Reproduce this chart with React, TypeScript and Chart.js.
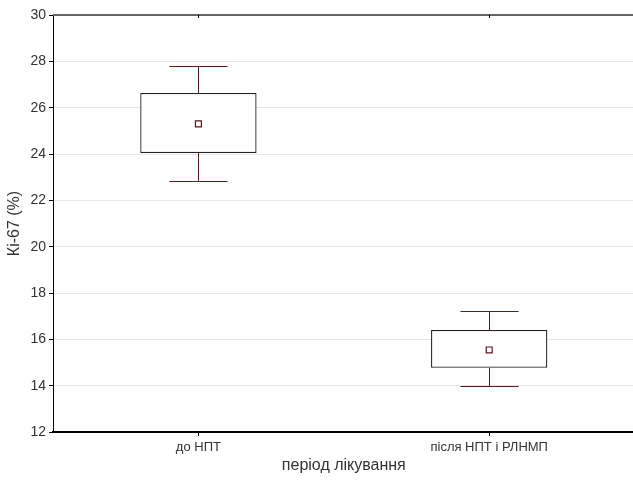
import React, { useEffect, useRef } from "react";
import { Chart, registerables } from "chart.js";

Chart.register(...registerables);

const categories = ["до НПТ", "після НПТ і РЛНМП"];
const boxLow = [24.04, 14.77];
const boxHigh = [26.63, 16.4];
const whiskerLow = [22.84, 13.99];
const whiskerHigh = [27.8, 17.22];
const means = [25.3, 15.54];
const yTitle = "Кі-67 (%)";
const xTitle = "період лікування";

const FONT = "'Liberation Sans', Arial, sans-serif";
const TEXT = "#333333";
const WHISKER = "#5a1c1c";

const whiskerPlugin = {
  id: "whiskers",
  beforeDatasetsDraw(chart: any) {
    const { ctx, scales } = chart;
    const x = scales.x;
    const y = scales.y;
    const meta = chart.getDatasetMeta(0);
    ctx.save();
    ctx.strokeStyle = WHISKER;
    ctx.lineWidth = 1;
    categories.forEach((_, i) => {
      const cx = Math.round(x.getPixelForValue(i)) + 0.5;
      const bw = meta.data[i] ? meta.data[i].width : 100;
      const half = bw / 4;
      const yTop = y.getPixelForValue(whiskerHigh[i]);
      const yBoxTop = y.getPixelForValue(boxHigh[i]);
      const yBoxBot = y.getPixelForValue(boxLow[i]);
      const yBot = y.getPixelForValue(whiskerLow[i]);
      ctx.beginPath();
      ctx.moveTo(cx, yBoxTop);
      ctx.lineTo(cx, yTop);
      ctx.moveTo(cx - half, Math.round(yTop) + 0.5);
      ctx.lineTo(cx + half, Math.round(yTop) + 0.5);
      ctx.moveTo(cx, yBoxBot);
      ctx.lineTo(cx, yBot);
      ctx.moveTo(cx - half, Math.round(yBot) + 0.5);
      ctx.lineTo(cx + half, Math.round(yBot) + 0.5);
      ctx.stroke();
    });
    ctx.restore();
  },
  afterDraw(chart: any) {
    const { ctx, chartArea, scales } = chart;
    ctx.save();
    ctx.strokeStyle = "#666666";
    ctx.lineWidth = 2;
    ctx.beginPath();
    ctx.moveTo(chartArea.left, chartArea.top);
    ctx.lineTo(chartArea.right + 5, chartArea.top);
    ctx.stroke();
    ctx.strokeStyle = "#000";
    ctx.lineWidth = 1;
    categories.forEach((_, i) => {
      const cx = Math.round(scales.x.getPixelForValue(i)) + 0.5;
      ctx.beginPath();
      ctx.moveTo(cx, chartArea.top);
      ctx.lineTo(cx, chartArea.top + 3);
      ctx.stroke();
    });
    ctx.restore();
  },
};

export default function App() {
  const ref = useRef<HTMLCanvasElement | null>(null);

  useEffect(() => {
    if (!ref.current) return;
    const chart = new Chart(ref.current, {
      type: "bar",
      data: {
        labels: categories,
        datasets: [
          {
            type: "bar",
            data: categories.map((_, i) => [boxLow[i], boxHigh[i]]) as any,
            backgroundColor: "#ffffff",
            borderColor: "#222222",
            borderWidth: 1.3,
            borderSkipped: false,
            barPercentage: 0.4,
            categoryPercentage: 1,
            order: 2,
          } as any,
          {
            type: "line",
            data: means,
            showLine: false,
            pointStyle: "rect",
            pointRadius: 4.2,
            pointBackgroundColor: "#ffffff",
            pointBorderColor: "#5e1515",
            pointBorderWidth: 1.2,
            order: 1,
          } as any,
        ],
      },
      options: {
        responsive: false,
        animation: false,
        layout: { padding: { top: 15, right: 3, left: 0, bottom: 0 } },
        plugins: { legend: { display: false }, tooltip: { enabled: false } },
        scales: {
          x: {
            offset: true,
            afterFit(scale: any) {
              scale.height = 49;
            },
            grid: {
              offset: false,
              drawOnChartArea: false,
              tickLength: 4,
              color: "#000",
            },
            border: { color: "#000", width: 2 },
            ticks: {
              color: TEXT,
              padding: 4,
              font: { family: FONT, size: 13 },
            },
            title: {
              display: true,
              text: xTitle,
              color: TEXT,
              font: { family: FONT, size: 16 },
              padding: { top: 0, bottom: 6 },
            },
          },
          y: {
            min: 12,
            max: 30,
            afterFit(scale: any) {
              scale.width = 53;
            },
            grid: {
              color: "#e6e6e6",
              tickColor: "#000",
              tickLength: 4,
            },
            border: { color: "#000", width: 1 },
            ticks: {
              stepSize: 2,
              color: TEXT,
              padding: 3,
              font: { family: FONT, size: 14 },
            },
            title: {
              display: true,
              text: yTitle,
              color: TEXT,
              font: { family: FONT, size: 16 },
              padding: { top: 5, bottom: 0 },
            },
          },
        },
      },
      plugins: [whiskerPlugin],
    });
    return () => chart.destroy();
  }, []);

  return (
    <div
      style={{
        position: "fixed",
        left: 0,
        top: 0,
        width: 633,
        height: 481,
        overflow: "hidden",
        background: "#fff",
      }}
    >
      <canvas ref={ref} width={640} height={481} style={{ width: 640, height: 481, display: "block" }} />
    </div>
  );
}
